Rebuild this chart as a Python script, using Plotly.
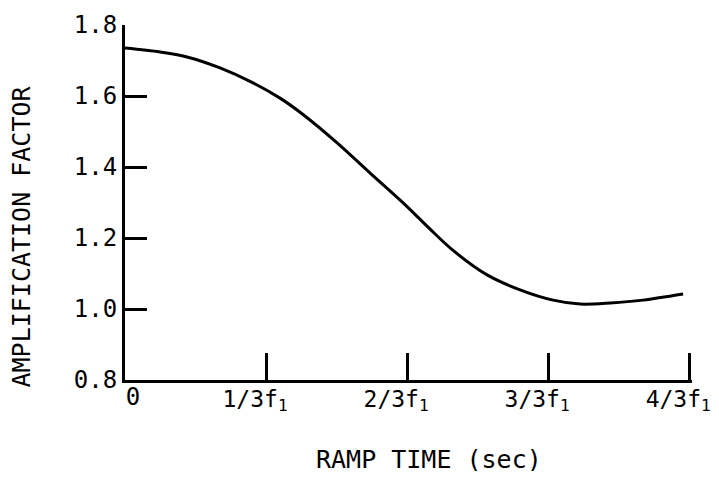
import plotly.graph_objects as go

# Ramp time in units of 1/(3 f1)
ramp_time = [0.0, 0.248, 0.44, 0.674, 0.908, 1.099, 1.262, 1.504, 1.738, 1.972, 2.163, 2.326, 2.567, 2.801, 3.035, 3.227, 3.44, 3.674, 3.957]
amplification = [1.735, 1.724, 1.710, 1.679, 1.637, 1.594, 1.548, 1.468, 1.383, 1.299, 1.225, 1.165, 1.096, 1.054, 1.025, 1.014, 1.017, 1.025, 1.042]

x_tickvals = [0, 1, 2, 3, 4]
x_ticktext = ["", "1/3f<sub>1</sub>", "2/3f<sub>1</sub>", "3/3f<sub>1</sub>", "4/3f<sub>1</sub>"]
x0_tickvals = [0]
x0_ticktext = ["0"]
y_tickvals = [0.8, 1.0, 1.2, 1.4, 1.6, 1.8]
y_ticktext = ["0.8", "1.0", "1.2", "1.4", "1.6", "1.8"]
x_title = "RAMP TIME (sec)"
y_title = "AMPLIFICATION FACTOR"

FONT = "DejaVu Sans Mono"
FS = 25
TFS = 24
XTFS = 23
XRANGE = [0, 4.02]

fig = go.Figure()
fig.add_trace(go.Scatter(
    x=ramp_time, y=amplification, mode="lines",
    line=dict(color="black", width=3, shape="spline", smoothing=0.9),
    showlegend=False, hoverinfo="skip",
))
# invisible trace so the overlay axis carrying the "0" label exists
fig.add_trace(go.Scatter(
    x=[ramp_time[0]], y=[amplification[0]], xaxis="x2", mode="markers",
    marker=dict(opacity=0), showlegend=False, hoverinfo="skip",
))

# page body has an 8px margin; keep the figure inside the window (no scrollbars)
fig.update_layout(
    width=703, height=463,
    margin=dict(l=117, r=19, t=17, b=91, autoexpand=False),
    paper_bgcolor="white", plot_bgcolor="white",
    font=dict(family=FONT, color="black", size=FS),
    xaxis=dict(
        range=XRANGE, tickvals=x_tickvals, ticktext=x_ticktext,
        showgrid=False, zeroline=False, automargin=False,
        showline=True, linecolor="black", linewidth=3,
        ticks="inside", ticklen=27, tickwidth=2.5, tickcolor="black",
        tickfont=dict(family=FONT, size=XTFS), ticklabelstandoff=-4,
        ticklabelshift=-11, ticklabeloverflow="allow",
    ),
    xaxis2=dict(
        range=XRANGE, tickvals=x0_tickvals, ticktext=x0_ticktext,
        overlaying="x", anchor="y", side="bottom",
        showgrid=False, zeroline=False, automargin=False, showline=False,
        ticks="", tickfont=dict(family=FONT, size=TFS), ticklabelstandoff=0,
        ticklabelshift=8, ticklabeloverflow="allow",
    ),
    yaxis=dict(
        range=[0.8, 1.8], tickvals=y_tickvals, ticktext=y_ticktext,
        showgrid=False, zeroline=False, automargin=False,
        showline=True, linecolor="black", linewidth=3,
        ticks="inside", ticklen=22, tickwidth=2.5, tickcolor="black",
        tickfont=dict(family=FONT, size=TFS),
    ),
    annotations=[
        dict(text=x_title, xref="paper", yref="paper", x=0.537, y=-0.225,
             xanchor="center", yanchor="middle", showarrow=False,
             font=dict(family=FONT, size=FS)),
        dict(text=y_title, xref="paper", yref="paper", x=-0.1826, y=0.4056,
             xanchor="center", yanchor="middle", showarrow=False, textangle=-90,
             font=dict(family=FONT, size=FS)),
    ],
)

fig.write_html("out.html")
